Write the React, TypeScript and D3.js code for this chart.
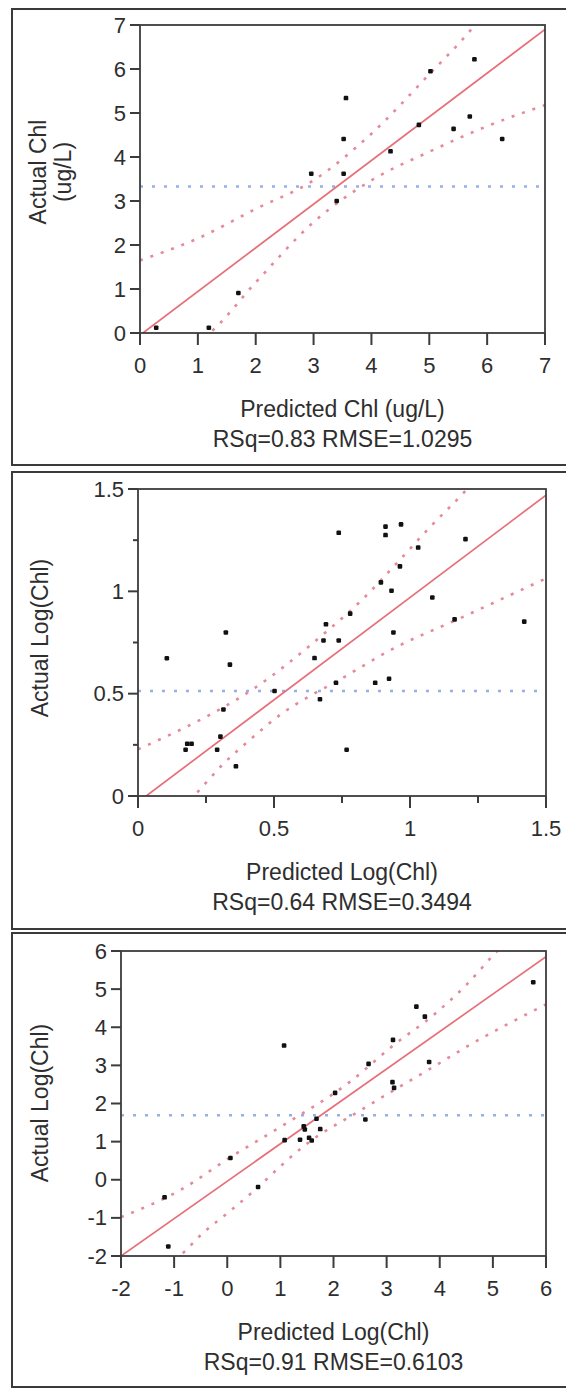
import React from "react";
import * as d3 from "d3";

// ---------- Panel 1 : Chl (ug/L) ----------
const p1Pred = [5.78, 5.02, 3.56, 3.52, 4.82, 5.42, 5.7, 6.26, 4.33, 2.96, 3.52, 3.4, 1.7, 1.19, 0.28];
const p1Act = [6.22, 5.95, 5.34, 4.41, 4.73, 4.64, 4.92, 4.41, 4.13, 3.62, 3.62, 3.0, 0.91, 0.12, 0.12];
const p1Fit: [number, number][] = [[0.05, 0], [7, 6.9]];
const p1Upper: [number, number][] = [[0, 1.65], [1, 2.15], [2, 2.82], [3, 3.47], [4, 4.53], [5, 5.88], [5.7, 6.86], [5.82, 7.05]];
const p1Lower: [number, number][] = [[1.1, -0.1], [1.2, 0], [2, 1.15], [3, 2.52], [4, 3.47], [5, 4.12], [6, 4.7], [7, 5.18]];
const p1Mean = 3.33;
const p1XTicks = [0, 1, 2, 3, 4, 5, 6, 7];
const p1YTicks = [0, 1, 2, 3, 4, 5, 6, 7];
const p1XTitle = "Predicted Chl (ug/L)";
const p1YTitle = ["Actual Chl", "(ug/L)"];
const p1Stats = "RSq=0.83 RMSE=1.0295";

// ---------- Panel 2 : Log(Chl) ----------
const p2Pred = [0.738, 0.91, 0.91, 0.967, 1.03, 1.204, 0.963, 0.893, 0.932, 1.082, 0.78, 0.691, 1.164, 1.42, 0.939, 0.323, 0.682, 0.738, 0.649, 0.106, 0.338, 0.728, 0.872, 0.923, 0.502, 0.669, 0.314, 0.303, 0.181, 0.197, 0.175, 0.291, 0.767, 0.36];
const p2Act = [1.286, 1.316, 1.275, 1.327, 1.214, 1.255, 1.122, 1.044, 1.003, 0.97, 0.891, 0.839, 0.863, 0.852, 0.799, 0.799, 0.76, 0.76, 0.674, 0.673, 0.642, 0.553, 0.553, 0.573, 0.513, 0.473, 0.423, 0.29, 0.255, 0.255, 0.226, 0.226, 0.226, 0.145];
const p2Fit: [number, number][] = [[0.03, 0], [1.5, 1.47]];
const p2Upper: [number, number][] = [[0, 0.228], [0.25, 0.387], [0.37, 0.477], [0.48, 0.575], [0.59, 0.689], [0.69, 0.8], [0.82, 0.954], [0.96, 1.15], [1.075, 1.316], [1.21, 1.5], [1.23, 1.53]];
const p2Lower: [number, number][] = [[0.19, -0.02], [0.205, 0], [0.316, 0.16], [0.418, 0.282], [0.522, 0.396], [0.632, 0.489], [0.706, 0.542], [0.956, 0.732], [1.168, 0.859], [1.5, 1.063]];
const p2Mean = 0.513;
const p2XTicks = [0, 0.5, 1, 1.5];
const p2YTicks = [0, 0.5, 1, 1.5];
const p2Minor = [0.25, 0.75, 1.25];
const p2XTitle = "Predicted Log(Chl)";
const p2YTitle = ["Actual Log(Chl)"];
const p2Stats = "RSq=0.64 RMSE=0.3494";

// ---------- Panel 3 : Log(Chl) ----------
const p3Pred = [5.76, 3.56, 3.72, 1.07, 3.12, 3.8, 2.66, 3.11, 3.14, 2.03, 2.6, 1.68, 1.44, 1.46, 1.75, 1.37, 1.54, 1.59, 1.08, 0.06, 0.58, -1.18, -1.11];
const p3Act = [5.18, 4.54, 4.28, 3.52, 3.67, 3.09, 3.04, 2.56, 2.41, 2.28, 1.58, 1.6, 1.4, 1.32, 1.33, 1.05, 1.1, 1.03, 1.04, 0.57, -0.19, -0.46, -1.75];
const p3Fit: [number, number][] = [[-2, -2], [6, 5.85]];
const p3Upper: [number, number][] = [[-2, -0.98], [-0.87, -0.26], [0.08, 0.61], [0.97, 1.36], [2.32, 2.58], [3.14, 3.54], [3.89, 4.33], [4.5, 5.11], [5.08, 6.0], [5.15, 6.1]];
const p3Lower: [number, number][] = [[-1.0, -2.1], [-0.9, -2], [-0.46, -1.4], [0.08, -0.79], [0.56, -0.22], [1.03, 0.39], [1.44, 0.88], [2.53, 1.84], [3.21, 2.41], [3.89, 2.97], [4.57, 3.54], [5.25, 4.06], [6, 4.6]];
const p3Mean = 1.69;
const p3XTicks = [-2, -1, 0, 1, 2, 3, 4, 5, 6];
const p3YTicks = [-2, -1, 0, 1, 2, 3, 4, 5, 6];
const p3XTitle = "Predicted Log(Chl)";
const p3YTitle = ["Actual Log(Chl)"];
const p3Stats = "RSq=0.91 RMSE=0.6103";

const FONT = "'Liberation Sans', Arial, sans-serif";
const TEXT = "#2e2e2e";
const AXIS = "#3c3c3c";
const RED = "#e66f79";
const RED_DOT = "#e58a98";
const BLUE_DOT = "#98afe6";
const TICK_FS = 22;
const TITLE_FS = 23;

type PanelProps = {
  id: string;
  frameTop: number;
  frameBottom: number;
  left: number;
  right: number;
  top: number;
  bottom: number;
  xDomain: [number, number];
  yDomain: [number, number];
  xTicks: number[];
  yTicks: number[];
  minor?: number[];
  pred: number[];
  act: number[];
  fit: [number, number][];
  upper: [number, number][];
  lower: [number, number][];
  mean: number;
  xTitle: string;
  yTitle: string[];
  yTitleX: number[];
  yTitleY: number;
  stats: string;
};

function Panel(p: PanelProps) {
  const x = d3.scaleLinear().domain(p.xDomain).range([p.left, p.right]);
  const y = d3.scaleLinear().domain(p.yDomain).range([p.bottom, p.top]);
  const line = d3
    .line<[number, number]>()
    .x((d) => x(d[0]))
    .y((d) => y(d[1]));
  const curve = d3
    .line<[number, number]>()
    .x((d) => x(d[0]))
    .y((d) => y(d[1]))
    .curve(d3.curveMonotoneX);
  const fmt = (v: number) => String(v);
  const cy = p.yTitleY;
  const cx = (p.left + p.right) / 2;
  const clipId = "clip-" + p.id;
  return (
    <g>
      <rect x={12} y={p.frameTop} width={600} height={p.frameBottom - p.frameTop} fill="none" stroke="#3a3a3a" strokeWidth={2} />
      <defs>
        <clipPath id={clipId}>
          <rect x={p.left} y={p.top} width={p.right - p.left} height={p.bottom - p.top} />
        </clipPath>
      </defs>
      <g clipPath={`url(#${clipId})`}>
        <line x1={p.left} x2={p.right} y1={y(p.mean)} y2={y(p.mean)} stroke={BLUE_DOT} strokeWidth={2.6} strokeDasharray="3 9" />
        <path d={curve(p.upper) || ""} fill="none" stroke={RED_DOT} strokeWidth={2.6} strokeDasharray="3 8" />
        <path d={curve(p.lower) || ""} fill="none" stroke={RED_DOT} strokeWidth={2.6} strokeDasharray="3 8" />
        <path d={line(p.fit) || ""} fill="none" stroke={RED} strokeWidth={1.7} />
        {p.pred.map((v, i) => (
          <rect key={i} x={x(v) - 2.3} y={y(p.act[i]) - 2.3} width={4.6} height={4.6} rx={1.2} fill="#111" />
        ))}
      </g>
      <rect x={p.left} y={p.top} width={p.right - p.left} height={p.bottom - p.top} fill="none" stroke={AXIS} strokeWidth={1.8} />
      {p.xTicks.map((t) => (
        <g key={"x" + t}>
          <line x1={x(t)} x2={x(t)} y1={p.bottom} y2={p.bottom + 12} stroke={AXIS} strokeWidth={2} />
          <text x={x(t)} y={p.bottom + 32} textAnchor="middle" dominantBaseline="central" fontSize={TICK_FS} fontFamily={FONT} fill={TEXT}>
            {fmt(t)}
          </text>
        </g>
      ))}
      {p.yTicks.map((t) => (
        <g key={"y" + t}>
          <line x1={p.left - 10} x2={p.left} y1={y(t)} y2={y(t)} stroke={AXIS} strokeWidth={2} />
          <text x={p.left - 14} y={y(t)} textAnchor="end" dominantBaseline="central" fontSize={TICK_FS} fontFamily={FONT} fill={TEXT}>
            {fmt(t)}
          </text>
        </g>
      ))}
      {(p.minor || []).map((t) => (
        <g key={"m" + t}>
          <line x1={x(t)} x2={x(t)} y1={p.bottom} y2={p.bottom + 7} stroke={AXIS} strokeWidth={2} />
          <line x1={p.left - 5} x2={p.left} y1={y(t)} y2={y(t)} stroke={AXIS} strokeWidth={2} />
        </g>
      ))}
      <text x={cx} y={p.bottom + 76} textAnchor="middle" dominantBaseline="central" fontSize={TITLE_FS} fontFamily={FONT} fill={TEXT}>
        {p.xTitle}
      </text>
      <text x={cx} y={p.bottom + 106} textAnchor="middle" dominantBaseline="central" fontSize={TITLE_FS} fontFamily={FONT} fill={TEXT}>
        {p.stats}
      </text>
      {p.yTitle.map((t, i) => (
        <text
          key={"yt" + i}
          x={p.yTitleX[i]}
          y={cy}
          transform={`rotate(-90, ${p.yTitleX[i]}, ${cy})`}
          textAnchor="middle"
          dominantBaseline="central"
          fontSize={TITLE_FS}
          fontFamily={FONT}
          fill={TEXT}
        >
          {t}
        </text>
      ))}
    </g>
  );
}

export default function App() {
  return (
    <svg width={566} height={1389} style={{ position: "absolute", left: 0, top: 0, background: "#fff" }}>
      <rect x={0} y={0} width={566} height={1389} fill="#fff" />
      <Panel
        id="p1"
        frameTop={9}
        frameBottom={465}
        left={140}
        right={545}
        top={25}
        bottom={333}
        xDomain={[0, 7]}
        yDomain={[0, 7]}
        xTicks={p1XTicks}
        yTicks={p1YTicks}
        pred={p1Pred}
        act={p1Act}
        fit={p1Fit}
        upper={p1Upper}
        lower={p1Lower}
        mean={p1Mean}
        xTitle={p1XTitle}
        yTitle={p1YTitle}
        yTitleX={[38, 63]}
        yTitleY={172}
        stats={p1Stats}
      />
      <Panel
        id="p2"
        frameTop={472}
        frameBottom={929}
        left={138}
        right={546}
        top={489}
        bottom={796}
        xDomain={[0, 1.5]}
        yDomain={[0, 1.5]}
        xTicks={p2XTicks}
        yTicks={p2YTicks}
        minor={p2Minor}
        pred={p2Pred}
        act={p2Act}
        fit={p2Fit}
        upper={p2Upper}
        lower={p2Lower}
        mean={p2Mean}
        xTitle={p2XTitle}
        yTitle={p2YTitle}
        yTitleX={[40]}
        yTitleY={638}
        stats={p2Stats}
      />
      <Panel
        id="p3"
        frameTop={933}
        frameBottom={1387}
        left={121}
        right={546}
        top={951}
        bottom={1256}
        xDomain={[-2, 6]}
        yDomain={[-2, 6]}
        xTicks={p3XTicks}
        yTicks={p3YTicks}
        pred={p3Pred}
        act={p3Act}
        fit={p3Fit}
        upper={p3Upper}
        lower={p3Lower}
        mean={p3Mean}
        xTitle={p3XTitle}
        yTitle={p3YTitle}
        yTitleX={[40]}
        yTitleY={1103}
        stats={p3Stats}
      />
    </svg>
  );
}
